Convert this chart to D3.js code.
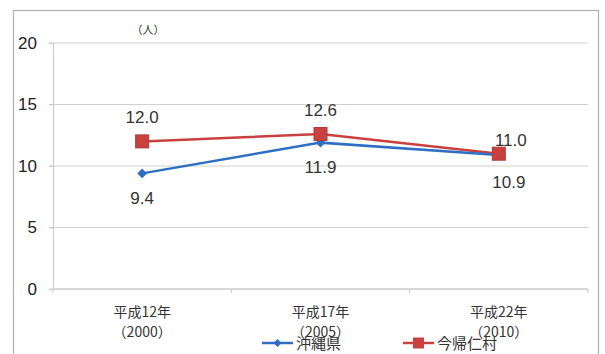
<!DOCTYPE html>
<html>
<head>
<meta charset="utf-8">
<script src="https://cdn.jsdelivr.net/npm/d3@7"></script>
<style>
  html, body { margin: 0; padding: 0; background: #fff; }
  svg { display: block; font-family: "Noto Sans CJK JP", "Noto Sans", sans-serif; }
</style>
</head>
<body>
<svg id="chart" width="605" height="354"></svg>
<script>
// Categories (census years) and series values
const categories = ["平成12年\n（2000）", "平成17年\n（2005）", "平成22年\n（2010）"];
const okinawa = [9.4, 11.9, 10.9];
const nakijin = [12.0, 12.6, 11.0];
const seriesNames = ["沖縄県", "今帰仁村"];
const yTicks = [0, 5, 10, 15, 20];

const svg = d3.select("#chart");
const plot = { left: 53, right: 588, top: 43, bottom: 289 };

// Outer chart frame
svg.append("rect").attr("x", 13.5).attr("y", 10.5)
  .attr("width", 585).attr("height", 360)
  .attr("fill", "#fff").attr("stroke", "#b0b0b0").attr("stroke-width", 1.2);

const x = d3.scaleBand().domain(categories).range([plot.left, plot.right]);
const y = d3.scaleLinear().domain([0, 20]).range([plot.bottom, plot.top]);
const cx = d => x(d) + x.bandwidth() / 2;

// Horizontal gridlines
svg.append("g").selectAll("line").data(yTicks).join("line")
  .attr("x1", plot.left - 4).attr("x2", plot.right)
  .attr("y1", d => y(d)).attr("y2", d => y(d))
  .attr("stroke", "#cfcfcf").attr("stroke-width", 1);

// Y axis
const numFont = "Liberation Sans, Arial, sans-serif";
const yAxis = svg.append("g").attr("transform", `translate(${plot.left},0)`)
  .call(d3.axisLeft(y).tickValues(yTicks).tickSize(4).tickPadding(12));
yAxis.select(".domain").attr("stroke", "#c8c8c8");
yAxis.selectAll(".tick line").attr("stroke", "#c8c8c8");
yAxis.selectAll(".tick text").attr("font-size", 17).attr("fill", "#222")
  .attr("font-family", numFont);

// X axis baseline and category tick marks
const xAxis = svg.append("g").attr("transform", `translate(0,${plot.bottom})`);
xAxis.append("line").attr("x1", plot.left).attr("x2", plot.right)
  .attr("stroke", "#c8c8c8");
const bounds = categories.map(c => x(c)).concat([plot.right]);
xAxis.selectAll("line.tk").data(bounds).join("line").attr("class", "tk")
  .attr("x1", d => d).attr("x2", d => d).attr("y1", 0).attr("y2", 4)
  .attr("stroke", "#c8c8c8");

// Category labels (two lines each)
const catG = svg.append("g").selectAll("text").data(categories).join("text")
  .attr("x", d => cx(d)).attr("text-anchor", "middle")
  .attr("font-size", 14).attr("fill", "#333");
catG.each(function(d) {
  const parts = d.split("\n");
  const t = d3.select(this);
  t.append("tspan").attr("x", cx(d)).attr("y", 317).text(parts[0]);
  t.append("tspan").attr("x", cx(d)).attr("y", 337).text(parts[1]);
});

// Unit label
svg.append("text").attr("x", 148).attr("y", 34).attr("text-anchor", "middle")
  .attr("font-size", 11).attr("fill", "#333").text("（人）");

const blue = "#2e6fc4", red = "#c8413f";
const line = d3.line().x((d, i) => cx(categories[i])).y(d => y(d));

// Series lines
svg.append("path").datum(nakijin).attr("d", line)
  .attr("fill", "none").attr("stroke", red).attr("stroke-width", 2.5);
svg.append("path").datum(okinawa).attr("d", line)
  .attr("fill", "none").attr("stroke", blue).attr("stroke-width", 2.5);

// Markers
svg.append("g").selectAll("path").data(okinawa).join("path")
  .attr("transform", (d, i) => `translate(${cx(categories[i])},${y(d)})`)
  .attr("d", d3.symbol(d3.symbolDiamond2, 60))
  .attr("fill", blue);
svg.append("g").selectAll("rect").data(nakijin).join("rect")
  .attr("x", (d, i) => cx(categories[i]) - 6.5).attr("y", d => y(d) - 6.5)
  .attr("width", 13).attr("height", 13)
  .attr("fill", red).attr("stroke", "#b03a38");

// Data labels
const nakijinOffsets = [[0, -18], [0, -18], [12, -8]];
const okinawaOffsets = [[0, 31], [0, 30], [10, 33]];
svg.append("g").selectAll("text").data(nakijin).join("text")
  .attr("x", (d, i) => cx(categories[i]) + nakijinOffsets[i][0])
  .attr("y", (d, i) => y(d) + nakijinOffsets[i][1])
  .attr("text-anchor", "middle").attr("font-size", 17)
  .attr("font-family", numFont).attr("fill", "#333")
  .text(d => d.toFixed(1));
svg.append("g").selectAll("text").data(okinawa).join("text")
  .attr("x", (d, i) => cx(categories[i]) + okinawaOffsets[i][0])
  .attr("y", (d, i) => y(d) + okinawaOffsets[i][1])
  .attr("text-anchor", "middle").attr("font-size", 17)
  .attr("font-family", numFont).attr("fill", "#333")
  .text(d => d.toFixed(1));

// Legend
const legend = svg.append("g");
const legendItems = [
  { name: seriesNames[0], color: blue, x: 262, marker: "diamond" },
  { name: seriesNames[1], color: red, x: 403, marker: "square" }
];
legendItems.forEach(it => {
  const g = legend.append("g").attr("transform", `translate(${it.x},343)`);
  g.append("line").attr("x1", 0).attr("x2", 31).attr("stroke", it.color).attr("stroke-width", 2.5);
  if (it.marker === "diamond") {
    g.append("path").attr("transform", "translate(15.5,0)")
      .attr("d", d3.symbol(d3.symbolDiamond2, 40)).attr("fill", it.color);
  } else {
    g.append("rect").attr("x", 10).attr("y", -5.5).attr("width", 11).attr("height", 11)
      .attr("fill", it.color);
  }
  g.append("text").attr("x", 34).attr("y", 6).attr("font-size", 15)
    .attr("fill", "#333").text(it.name);
});
</script>
</body>
</html>
